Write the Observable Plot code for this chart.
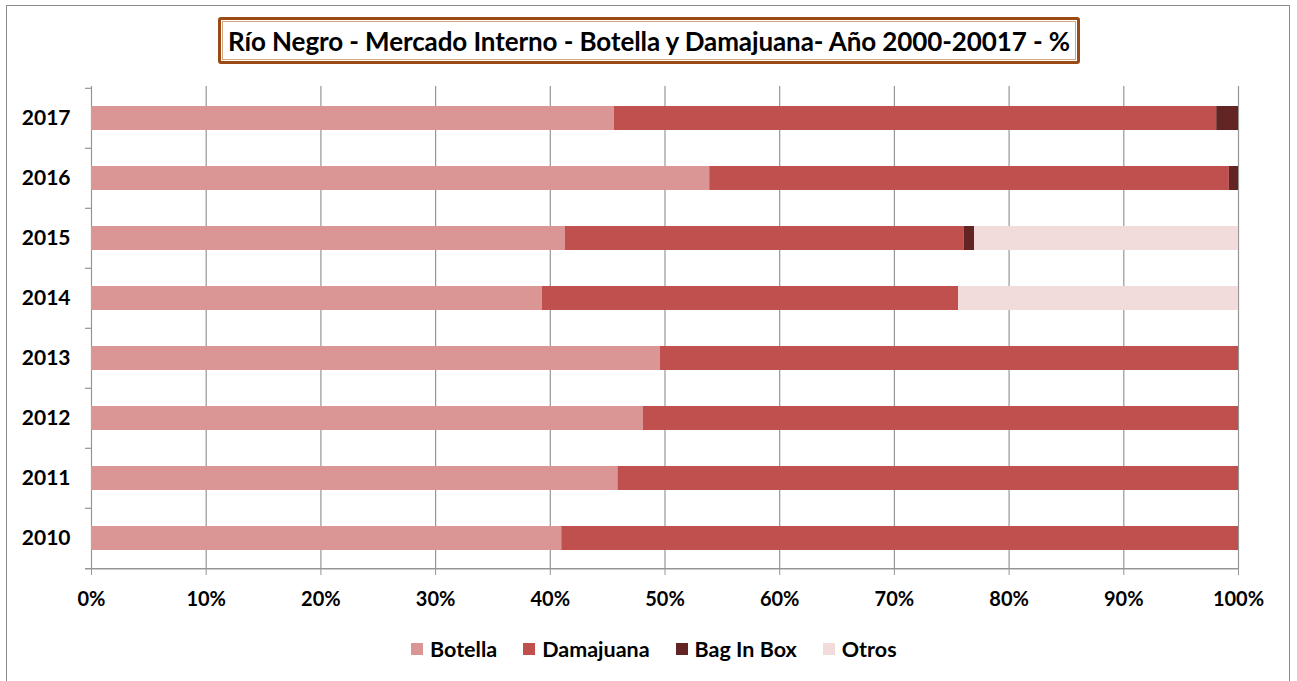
<!DOCTYPE html>
<html>
<head>
<meta charset="utf-8">
<script src="https://cdn.jsdelivr.net/npm/d3@7"></script>
<script src="https://cdn.jsdelivr.net/npm/@observablehq/plot@0.6"></script>
<style>
  html, body { margin: 0; padding: 0; background: #fff; }
  #wrap { position: relative; width: 1297px; height: 681px; overflow: hidden; font-family: Lato, "Open Sans", sans-serif; }
  #frame { position: absolute; left: 6px; top: 5px; width: 1284px; height: 700px; border: 1px solid #8a8a8a; box-sizing: border-box; }
  #title { position: absolute; left: 218px; top: 17px; width: 862px; height: 47px; box-sizing: border-box;
           border: 3px solid #9c4a13; border-radius: 3px; background: #fff;
           display: flex; align-items: center; justify-content: center;
           font-weight: 700; font-size: 26px; color: #000; letter-spacing: -0.1px; }
  #title::after { content: ""; position: absolute; inset: 1px; border: 1px solid #d6a77f; }
  #chart { position: absolute; left: 0; top: 0; }
  #legend { position: absolute; left: 411px; top: 636px; display: flex; align-items: center; gap: 0;
            font-weight: 700; font-size: 21.5px; color: #000; }
  .item { display: flex; align-items: center; margin-right: 26px; }
  .sw { width: 12px; height: 12px; margin-right: 7px; }
</style>
</head>
<body>
<div id="wrap">
  <div id="frame"></div>
  <div id="chart"></div>
  <div id="title">Río Negro - Mercado Interno - Botella y Damajuana- Año 2000-20017 - %</div>
  <div id="legend"></div>
</div>
<script>
// Share of internal-market volume by container type, per year (%)
const years     = ["2017", "2016", "2015", "2014", "2013", "2012", "2011", "2010"];
const botella   = [45.6, 53.9, 41.3, 39.3, 49.6, 48.1, 45.9, 41.0];
const damajuana = [52.5, 45.3, 34.8, 36.3, 50.4, 51.9, 54.1, 59.0];
const bagInBox  = [ 1.9,  0.8,  0.9,  0.0,  0.0,  0.0,  0.0,  0.0];
const otros     = [ 0.0,  0.0, 23.0, 24.4,  0.0,  0.0,  0.0,  0.0];

const types  = ["Botella", "Damajuana", "Bag In Box", "Otros"];
const colors = ["#d99694", "#c0504d", "#632523", "#f2dcdb"];
const xTicks = [0, 10, 20, 30, 40, 50, 60, 70, 80, 90, 100];

const series = [botella, damajuana, bagInBox, otros];
const rows = [];
years.forEach((year, i) => {
  types.forEach((type, k) => rows.push({year, type, value: series[k][i]}));
});

const width = 1297, height = 610;
const marginTop = 86, marginBottom = 41, marginLeft = 91, marginRight = 59;
const step = (height - marginTop - marginBottom) / years.length;
const gridColor = "#969696";

const chart = Plot.plot({
  width, height, marginTop, marginBottom, marginLeft, marginRight,
  style: {fontFamily: "Lato, 'Open Sans', sans-serif", background: "transparent", overflow: "visible"},
  x: {domain: [0, 100]},
  y: {domain: years, paddingInner: 0.6, paddingOuter: 0.3},
  color: {domain: types, range: colors},
  marks: [
    // vertical gridlines at every 10%
    Plot.ruleX(xTicks, {stroke: gridColor, strokeWidth: 1.2}),
    // stacked bars
    Plot.barX(rows, Plot.stackX({x: "value", y: "year", fill: "type", order: types})),
    // category separators on the y axis (top edge of each band)
    Plot.ruleY(years, {y: d => d, x1: 0, x2: 0, insetLeft: -6, dy: -step / 2, stroke: gridColor, strokeWidth: 1.2}),
    // bottom axis line
    Plot.ruleY([years[years.length - 1]], {y: d => d, x1: 0, x2: 100, insetLeft: -6, dy: step / 2, stroke: gridColor, strokeWidth: 1.5}),
    Plot.axisX({ticks: xTicks, tickFormat: d => d + "%", tickSize: 6, tickPadding: 16, stroke: gridColor,
                fontSize: 20, fontWeight: 700, fill: "#000", label: null}),
    Plot.axisY({tickSize: 0, tickPadding: 21, fontSize: 21, fontWeight: 700, fill: "#000", label: null})
  ]
});
document.getElementById("chart").appendChild(chart);

// legend
const legend = document.getElementById("legend");
types.forEach((t, i) => {
  const item = document.createElement("div");
  item.className = "item";
  const sw = document.createElement("span");
  sw.className = "sw";
  sw.style.background = colors[i];
  const label = document.createElement("span");
  label.textContent = t;
  item.append(sw, label);
  legend.appendChild(item);
});
</script>
</body>
</html>
